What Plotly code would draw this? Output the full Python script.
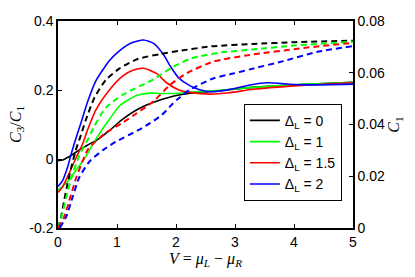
import plotly.graph_objects as go

# ---- data: C3/C1 (solid, left axis) ----
v_r0 = [0, 0.08, 0.22, 0.36, 0.53, 0.7, 0.87, 1.07, 1.36, 1.73, 2.07, 2.24, 2.6, 3.25, 4.0, 5.0]
r0 = [-0.005, -0.003, 0.01, 0.026, 0.043, 0.06, 0.082, 0.112, 0.145, 0.171, 0.186, 0.191, 0.196, 0.207, 0.215, 0.222]

v_r1 = [0, 0.14, 0.31, 0.47, 0.64, 0.87, 1.05, 1.33, 1.56, 1.73, 2.0, 2.24, 2.6, 3.25, 4.0, 5.0]
r1 = [-0.09, -0.07, -0.032, 0.007, 0.057, 0.115, 0.155, 0.184, 0.191, 0.19, 0.19, 0.194, 0.197, 0.207, 0.215, 0.222]

v_r15 = [0, 0.08, 0.19, 0.31, 0.42, 0.5, 0.64, 0.87, 1.1, 1.28, 1.45, 1.67, 1.84, 2.04, 2.24, 2.58, 2.9, 3.3, 4.0, 5.0]
r15 = [-0.097, -0.08, -0.041, 0.005, 0.045, 0.084, 0.142, 0.2, 0.241, 0.258, 0.263, 0.248, 0.221, 0.201, 0.193, 0.188, 0.192, 0.202, 0.212, 0.221]

v_r2 = [0, 0.08, 0.16, 0.22, 0.28, 0.39, 0.5, 0.64, 0.87, 1.05, 1.25, 1.45, 1.62, 1.79, 1.9, 2.04, 2.24, 2.4, 2.6, 2.9, 3.3, 3.54, 4.1, 5.0]
r2 = [-0.08, -0.062, -0.025, 0.012, 0.047, 0.105, 0.165, 0.226, 0.285, 0.315, 0.337, 0.345, 0.335, 0.302, 0.27, 0.236, 0.212, 0.201, 0.195, 0.201, 0.216, 0.221, 0.215, 0.217]

# ---- data: C1 (dashed, right axis) ----
v_c0 = [0, 0.05, 0.1, 0.16, 0.22, 0.3, 0.39, 0.47, 0.62, 0.81, 1.05, 1.36, 1.73, 2.07, 2.6, 3.3, 4.0, 5.0]
c0 = [0, 0.004, 0.01, 0.017, 0.023, 0.03, 0.036, 0.0417, 0.0505, 0.0572, 0.0618, 0.0654, 0.0672, 0.0685, 0.0702, 0.0711, 0.0718, 0.0724]

v_c1 = [0, 0.08, 0.14, 0.25, 0.36, 0.5, 0.62, 0.81, 1.1, 1.62, 1.95, 2.24, 2.41, 2.75, 3.3, 4.0, 5.0]
c1 = [0, 0.006, 0.012, 0.021, 0.028, 0.034, 0.0395, 0.0465, 0.0515, 0.0575, 0.0623, 0.0654, 0.0664, 0.0678, 0.069, 0.0705, 0.072]

v_c15 = [0, 0.1, 0.19, 0.31, 0.42, 0.51, 0.8, 1.08, 1.28, 1.62, 1.9, 2.18, 2.63, 3.25, 4.1, 5.0]
c15 = [0, 0.004, 0.0105, 0.0195, 0.026, 0.0305, 0.0366, 0.0405, 0.0435, 0.049, 0.0553, 0.0598, 0.0643, 0.0669, 0.0694, 0.0716]

v_c2 = [0.03, 0.14, 0.25, 0.36, 0.53, 0.76, 0.98, 1.36, 1.56, 1.76, 1.9, 2.01, 2.24, 2.63, 2.97, 3.25, 3.82, 4.38, 5.0]
c2 = [0, 0.0044, 0.0121, 0.0195, 0.0256, 0.0301, 0.0333, 0.0378, 0.0405, 0.0437, 0.047, 0.0495, 0.0535, 0.0578, 0.0597, 0.0613, 0.0645, 0.068, 0.0703]

labels = ["Δ<sub>L</sub> = 0", "Δ<sub>L</sub> = 1", "Δ<sub>L</sub> = 1.5", "Δ<sub>L</sub> = 2"]
colors = ["#000000", "#00ff00", "#ff0000", "#0000ff"]

x_ticks = [0, 1, 2, 3, 4, 5]
y_ticks = [-0.2, 0, 0.2, 0.4]
y_ticktext = ["-0.2", "0", "0.2", "0.4"]
y2_ticks = [0, 0.02, 0.04, 0.06, 0.08]
y2_ticktext = ["0", "0.02", "0.04", "0.06", "0.08"]

fig = go.Figure()

dashed = [(v_c0, c0), (v_c1, c1), (v_c15, c15), (v_c2, c2)]
solid = [(v_r0, r0), (v_r1, r1), (v_r15, r15), (v_r2, r2)]

for (vx, vy), col in zip(dashed, colors):
    fig.add_trace(go.Scatter(x=vx, y=vy, mode="lines", yaxis="y2", showlegend=False,
                             line=dict(color=col, width=2, dash="6px,4px", shape="spline", smoothing=0.6)))
for (vx, vy), col, lab in zip(solid, colors, labels):
    fig.add_trace(go.Scatter(x=vx, y=vy, mode="lines", name=lab,
                             line=dict(color=col, width=1.6, shape="spline", smoothing=0.6)))

axis_font = dict(family="Liberation Sans, Arial", size=14, color="black")
title_font = dict(family="Liberation Serif, DejaVu Serif, serif", size=16, color="black")

fig.update_layout(
    width=415, height=277,
    margin=dict(l=58, r=62, t=21, b=49, autoexpand=False),
    paper_bgcolor="white", plot_bgcolor="white",
    font=axis_font,
    xaxis=dict(range=[0, 5], tickvals=x_ticks, ticks="inside", ticklen=4, tickcolor="black",
               showline=True, linecolor="black", linewidth=1.5, mirror="ticks",
               showgrid=False, zeroline=False, tickfont=axis_font, automargin=False,
               title=dict(text="<i>V</i> = <i>μ</i><sub><i>L</i></sub> − <i>μ</i><sub><i>R</i></sub>",
                          font=title_font, standoff=2)),
    yaxis=dict(range=[-0.2, 0.4], tickvals=y_ticks, ticktext=y_ticktext, ticks="inside", ticklen=4,
               tickcolor="black", showline=True, linecolor="black", linewidth=1.5,
               showgrid=False, zeroline=False, tickfont=axis_font, automargin=False,
               title=dict(text="<i>C</i><sub>3</sub>/<i>C</i><sub>1</sub>", font=title_font, standoff=4)),
    yaxis2=dict(range=[0, 0.08], tickvals=y2_ticks, ticktext=y2_ticktext, overlaying="y", side="right",
                ticks="inside", ticklen=4, tickcolor="black", showline=True, linecolor="black",
                linewidth=1.5, showgrid=False, zeroline=False, tickfont=axis_font, automargin=False,
                title=dict(text="<i>C</i><sub>1</sub>", font=title_font, standoff=4)),
    legend=dict(x=0.63, y=0.6, xanchor="left", yanchor="top", bgcolor="white",
                bordercolor="black", borderwidth=1, font=dict(family="Liberation Sans, Arial", size=14),
                tracegroupgap=0, itemwidth=30),
)

fig.write_html("out.html", config={"displayModeBar": False},
               post_script="document.body.style.margin='0';")
